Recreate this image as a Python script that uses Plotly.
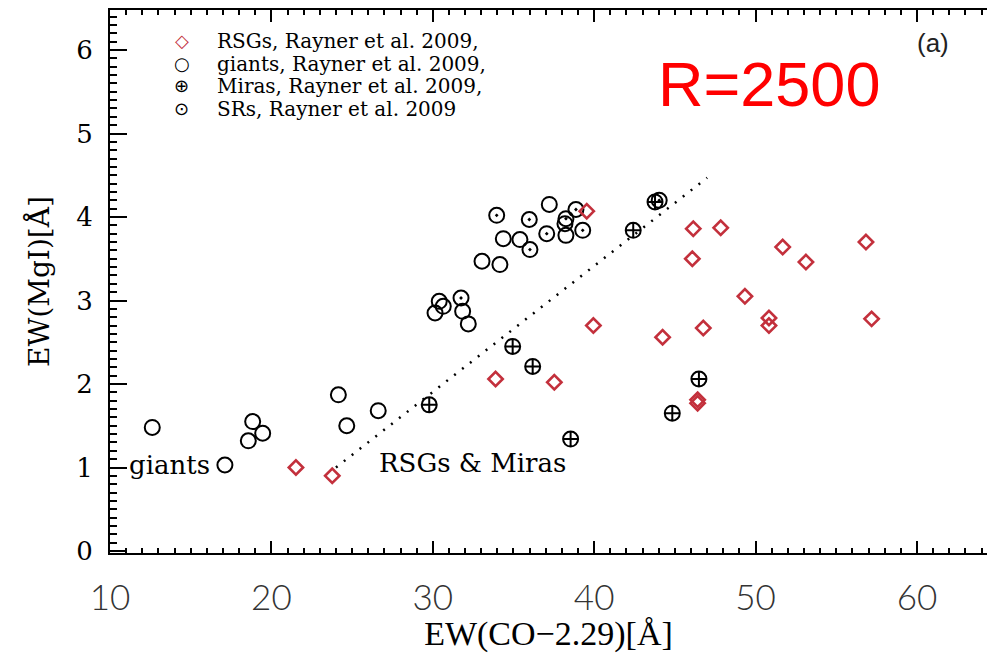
import plotly.graph_objects as go

# ---------------- data ----------------
rsg_x = [21.52, 23.77, 33.89, 37.53, 39.54, 39.95, 44.24, 46.14, 47.84, 51.68,
         53.12, 56.84, 46.08, 49.34, 50.83, 50.83, 57.19, 46.76, 46.41, 46.41]
rsg_y = [1.00, 0.90, 2.06, 2.02, 4.07, 2.70, 2.56, 3.86, 3.87, 3.64,
         3.46, 3.70, 3.50, 3.05, 2.79, 2.70, 2.78, 2.67, 1.81, 1.77]

giant_x = [12.62, 17.12, 18.84, 19.46, 18.57, 24.15, 24.67, 26.62, 30.14, 30.40,
           30.65, 31.85, 32.20, 33.05, 34.16, 34.37, 35.40, 37.22, 38.25, 38.19]
giant_y = [1.48, 1.03, 1.55, 1.41, 1.32, 1.87, 1.50, 1.68, 2.85, 2.99,
           2.93, 2.87, 2.72, 3.47, 3.43, 3.74, 3.73, 4.15, 3.78, 3.92]

mira_x = [43.77, 42.42, 34.95, 36.19, 29.78, 38.54, 46.49, 44.84]
mira_y = [4.18, 3.84, 2.45, 2.21, 1.75, 1.34, 2.06, 1.65]

sr_x = [33.96, 35.98, 38.87, 38.25, 37.06, 39.29, 36.02, 31.75, 44.03]
sr_y = [4.02, 3.97, 4.09, 3.98, 3.80, 3.84, 3.61, 3.03, 4.20]

line_x = [24.0, 47.0]
line_y = [1.0, 4.47]

legend_labels = ["RSGs, Rayner et al. 2009,", "giants, Rayner et al. 2009,",
                 "Miras, Rayner et al. 2009,", "SRs, Rayner et al. 2009"]
legend_symbols = ["◇", "○", "⊕", "⊙"]
legend_colors = ["#c3303c", "black", "black", "black"]
legend_rows_y = [6.108, 5.838, 5.569, 5.299]

x_ticks = [10, 20, 30, 40, 50, 60]
y_ticks = [0, 1, 2, 3, 4, 5, 6]

RED = "#c3303c"
SERIF = "DejaVu Serif"

fig = go.Figure()

fig.add_trace(go.Scatter(x=line_x, y=line_y, mode="lines",
                         line=dict(color="black", width=2.5, dash="2px,8px"),
                         showlegend=False, hoverinfo="skip"))
fig.add_trace(go.Scatter(x=giant_x, y=giant_y, mode="markers", name="giants",
                         marker=dict(symbol="circle-open", size=15, color="black",
                                     line=dict(width=2, color="black")),
                         showlegend=False))
fig.add_trace(go.Scatter(x=sr_x, y=sr_y, mode="markers", name="SRs",
                         marker=dict(symbol="circle-open-dot", size=15, color="black",
                                     line=dict(width=2, color="black")),
                         showlegend=False))
fig.add_trace(go.Scatter(x=mira_x, y=mira_y, mode="markers", name="Miras",
                         marker=dict(symbol="circle-cross-open", size=15, color="black",
                                     line=dict(width=2, color="black")),
                         showlegend=False))
fig.add_trace(go.Scatter(x=rsg_x, y=rsg_y, mode="markers", name="RSGs",
                         marker=dict(symbol="diamond-open", size=11, color=RED,
                                     line=dict(width=2.6, color=RED)),
                         showlegend=False))

annotations = []
for sym, col, lab, yy in zip(legend_symbols, legend_colors, legend_labels, legend_rows_y):
    annotations.append(dict(x=14.44, y=yy, xref="x", yref="y", text=sym, showarrow=False,
                            font=dict(family="DejaVu Sans", size=18, color=col),
                            xanchor="center", yanchor="middle"))
    annotations.append(dict(x=16.5, y=yy, xref="x", yref="y", text=lab, showarrow=False,
                            font=dict(family=SERIF, size=20, color="black"),
                            xanchor="left", yanchor="middle"))

annotations += [
    dict(x=11.05, y=1.03, xref="x", yref="y", text="giants", showarrow=False,
         font=dict(family=SERIF, size=26, color="black"), xanchor="left", yanchor="middle"),
    dict(x=26.52, y=1.05, xref="x", yref="y", text="RSGs &amp; Miras", showarrow=False,
         font=dict(family=SERIF, size=26, color="black"), xanchor="left", yanchor="middle"),
    dict(x=61.0, y=6.08, xref="x", yref="y", text="(a)", showarrow=False,
         font=dict(family="Liberation Sans", size=26, color="#222"),
         xanchor="center", yanchor="middle"),
    dict(x=(882 - 110) / (987 - 110), y=(553 - 84) / (553 - 10), xref="paper", yref="paper",
         text="R=2500", showarrow=False,
         font=dict(family="Liberation Sans", size=63, color="red"),
         xanchor="right", yanchor="middle"),
]

fig.update_layout(
    width=987, height=653,
    margin=dict(l=110, r=0, t=10, b=100),
    paper_bgcolor="white", plot_bgcolor="white",
    annotations=annotations,
    showlegend=False,
)

fig.update_xaxes(
    range=[10, 64.34], tickvals=x_ticks, ticktext=[str(v) for v in x_ticks],
    showgrid=False, zeroline=False,
    showline=True, linecolor="black", linewidth=2, mirror="allticks",
    ticks="inside", ticklen=12, tickwidth=1.5, tickcolor="black",
    minor=dict(dtick=1, ticks="inside", ticklen=5, tickwidth=1.5, tickcolor="black"),
    tickfont=dict(family="Lato", size=35, color="#333", weight=300),
    ticklabelstandoff=13,
    title=dict(text="EW(CO−2.29)[Å]", font=dict(family="Liberation Serif", size=34, color="black"),
               standoff=10),
)
fig.update_yaxes(
    range=[-0.024, 6.479], tickvals=y_ticks, ticktext=[str(v) for v in y_ticks],
    showgrid=False, zeroline=False,
    showline=True, linecolor="black", linewidth=2, mirror=False,
    ticks="inside", ticklen=17, tickwidth=1.5, tickcolor="black",
    minor=dict(dtick=0.1, ticks="inside", ticklen=7, tickwidth=1.5, tickcolor="black"),
    tickfont=dict(family=SERIF, size=26, color="black"),
    ticklabelstandoff=10,
    title=dict(text="EW(MgI)[Å]", font=dict(family=SERIF, size=28, color="black"),
               standoff=18),
)

fig.write_html("out.html")
